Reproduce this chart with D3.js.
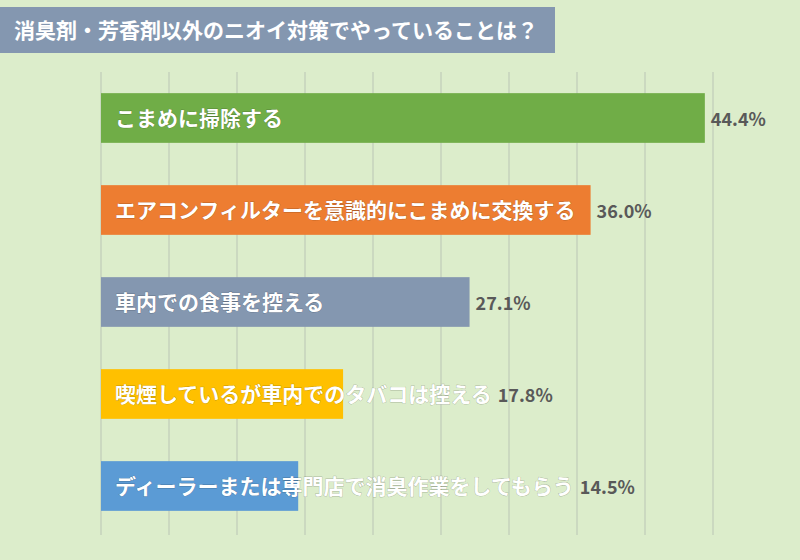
<!DOCTYPE html>
<html><head><meta charset="utf-8">
<script src="https://cdn.jsdelivr.net/npm/d3@7"></script>
<style>body{margin:0;background:#dcedcb;}</style>
</head><body>
<div id="main"></div>
<script>
const title = "消臭剤・芳香剤以外のニオイ対策でやっていることは？";
const categories = ["こまめに掃除する", "エアコンフィルターを意識的にこまめに交換する", "車内での食事を控える", "喫煙しているが車内でのタバコは控える", "ディーラーまたは専門店で消臭作業をしてもらう"];
const values = [44.4, 36.0, 27.1, 17.8, 14.5];
const colors = ["#70ad47", "#ed7d31", "#8497b0", "#ffc000", "#5b9bd5"];
const ticks = [0, 5, 10, 15, 20, 25, 30, 35, 40, 45];

const width = 800, height = 560;
const font = "'Noto Sans CJK JP', sans-serif";
const svg = d3.select("#main").append("svg").attr("width", width).attr("height", height);
svg.append("rect").attr("width", width).attr("height", height).attr("fill", "#dcedcb");

// title box
svg.append("rect").attr("x", 0).attr("y", 7).attr("width", 555).attr("height", 46).attr("fill", "#8497b0");
svg.append("text").attr("x", 14).attr("y", 38).text(title)
  .attr("font-family", font).attr("font-weight", "bold").attr("font-size", 21).attr("fill", "#fff");

const x = d3.scaleLinear().domain([0, 50]).range([101, 781]);
const y = d3.scaleBand().domain(categories).range([72, 532]).paddingInner(0.46).paddingOuter(0.23);

svg.selectAll("line.grid").data(ticks).enter().append("line")
  .attr("x1", d => x(d)).attr("x2", d => x(d)).attr("y1", 72).attr("y2", 535)
  .attr("stroke", "#c6d2bc").attr("stroke-width", 1.5);

svg.selectAll("rect.bar").data(categories).enter().append("rect")
  .attr("x", x(0)).attr("y", d => y(d)).attr("height", y.bandwidth())
  .attr("width", (d, i) => x(values[i]) - x(0)).attr("fill", (d, i) => colors[i]);

svg.selectAll("text.cat").data(categories).enter().append("text")
  .attr("x", x(0) + 14).attr("y", d => y(d) + y.bandwidth() / 2 + 8).text(d => d)
  .attr("font-family", font).attr("font-weight", "bold").attr("font-size", 21)
  .attr("fill", "#fff").attr("stroke", "rgba(0,0,0,0.25)").attr("stroke-width", 0.8)
  .attr("paint-order", "stroke")
  .each(function (d, i) {
    const w = this.getComputedTextLength();
    svg.append("text").attr("x", Math.max(x(values[i]), x(0) + 14 + w) + 6)
      .attr("y", y(d) + y.bandwidth() / 2 + 8).text(values[i].toFixed(1) + "%")
      .attr("font-family", font).attr("font-weight", "bold").attr("font-size", 18).attr("fill", "#595959");
  });
</script>
</body></html>
